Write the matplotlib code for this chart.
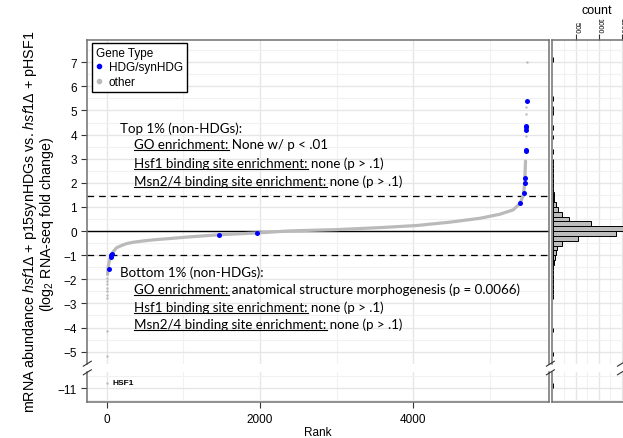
import matplotlib
matplotlib.use("Agg")
import matplotlib.pyplot as plt
from matplotlib.lines import Line2D

plt.rcParams['font.family'] = ['Liberation Sans', 'DejaVu Sans']
plt.rcParams['mathtext.fontset'] = 'custom'
plt.rcParams['mathtext.rm'] = 'Liberation Sans'
plt.rcParams['mathtext.it'] = 'Liberation Sans:italic'

# sorted log2 fold change, non-HDG genes (rank, value along the curve)
other_rank = [8, 15, 30, 45, 61, 90, 127, 190, 257, 350, 471, 620, 780, 1040,
              1477, 1957, 2348, 2523, 3002, 3608, 4048, 4483, 4875, 5136, 5310,
              5398, 5442, 5460, 5470]
other_fc = [-1.8, -1.5, -1.25, -1.1, -0.97, -0.82, -0.69, -0.6, -0.52, -0.46,
            -0.41, -0.36, -0.32, -0.25, -0.15, -0.08, 0.0, 0.02, 0.06, 0.15,
            0.23, 0.37, 0.53, 0.7, 0.88, 1.15, 1.49, 2.0, 2.9]

# isolated non-HDG genes in the tails
tail_rank = [6, 6, 5, 5, 4, 4, 3, 2, 1, 5474, 5476, 5478, 5490]
tail_fc = [-1.95, -2.05, -2.2, -2.35, -2.5, -2.65, -2.78, -4.16, -5.16,
           3.96, 4.86, 5.13, 7.02]

hsf1_rank = [0]
hsf1_fc = [-10.78]

# HDG / synHDG genes
hdg_rank = [26, 52, 58, 61, 1468, 1965, 5402, 5446, 5463, 5466, 5480, 5480,
            5483, 5483, 5483, 5485]
hdg_fc = [-1.59, -1.06, -1.0, -0.96, -0.15, -0.08, 1.17, 1.59, 1.98, 2.22,
          3.32, 3.38, 4.21, 4.3, 4.37, 5.40]

# marginal histogram (bin lower edge, count), bin width 0.2
hist_lo = [-5.2, -4.2, -2.8, -2.6, -2.4, -2.2, -2.0, -1.8, -1.6, -1.4, -1.2,
           -1.0, -0.8, -0.6, -0.4, -0.2, 0.0, 0.2, 0.4, 0.6, 0.8, 1.0, 1.2,
           1.4, 1.6, 1.8, 2.0, 2.2, 2.4, 2.6, 2.8, 3.2, 3.8, 4.2, 4.8, 5.0,
           5.4, 7.0]
hist_n = [1, 1, 2, 2, 2, 3, 4, 8, 12, 20, 40, 60, 80, 205, 550, 1365, 1550,
          830, 350, 200, 115, 60, 30, 18, 10, 8, 6, 5, 6, 5, 4, 3, 1, 3, 1, 1,
          1, 1]
hist_low_lo = [-11.0]
hist_low_n = [1]

top_cut = 1.45
bottom_cut = -1.0

W, H = 623, 439
BLUE = '#0000ff'
GREY = '#bababa'
BORDER = '#707070'
NOTE_FONT = ['Lato', 'DejaVu Sans']


def fx(x):
    return x / W


def fy(y):
    return 1 - y / H


def box(x0, y0, x1, y1):
    return [fx(x0), fy(y1), (x1 - x0) / W, (y1 - y0) / H]


fig = plt.figure(figsize=(W / 100, H / 100), dpi=100)
ax_top = fig.add_axes(box(87.3, 40.7, 549.3, 364.7))
ax_bot = fig.add_axes(box(87.3, 373.3, 549.3, 403.3))
hx_top = fig.add_axes(box(551.5, 40.7, 624, 364.7))
hx_bot = fig.add_axes(box(551.5, 373.3, 624, 403.3))

for a in (ax_top, ax_bot, hx_top, hx_bot):
    a.set_axisbelow(True)
    for s in a.spines.values():
        s.set_color(BORDER)
        s.set_linewidth(1.1)
    a.grid(True, which='major', color='#e6e6e6', lw=1.0)
    a.grid(True, which='minor', color='#f1f1f1', lw=0.8)
    a.tick_params(which='both', colors='#333333', labelcolor='black',
                  length=4, width=0.8, labelsize=8.5)
    a.tick_params(which='minor', length=0)
for a in (ax_top, hx_top):
    a.spines['bottom'].set_visible(False)
    a.set_ylim(-5.414, 7.936)
    a.set_yticks(range(-5, 8))
    a.set_yticks([v + 0.5 for v in range(-6, 8)], minor=True)
for a in (ax_bot, hx_bot):
    a.spines['top'].set_visible(False)
    a.set_ylim(-11.577, -10.34)
    a.set_yticks([-11])
    a.set_yticks([-11.5, -10.5], minor=True)

for a in (ax_top, ax_bot):
    a.set_xlim(-257, 5781)
    a.set_xticks([0, 2000, 4000])
    a.set_xticks([1000, 3000, 5000], minor=True)
ax_top.tick_params(axis='x', bottom=False, labelbottom=False)

for a in (hx_top, hx_bot):
    a.set_xlim(-30, 1546)
    a.set_xticks([500, 1000, 1500])
    a.set_xticks([250, 750, 1250], minor=True)
    a.tick_params(axis='y', left=False, labelleft=False)
hx_bot.tick_params(axis='x', bottom=False, labelbottom=False)
hx_top.xaxis.tick_top()
hx_top.tick_params(axis='x', which='major', labelsize=5, labelrotation=-90,
                   pad=1)

# reference lines
ax_top.axhline(0, color='black', lw=1.0, zorder=1.5)
for v in (top_cut, bottom_cut):
    ax_top.axhline(v, color='black', lw=0.9, ls=(0, (5.3, 4.0)), zorder=1.5)

# ranked fold changes
ax_top.plot(other_rank, other_fc, color=GREY, lw=2.3,
            solid_capstyle='round', zorder=2)
ax_top.scatter(tail_rank, tail_fc, s=3, color=GREY, lw=0, zorder=2)
ax_bot.scatter(hsf1_rank, hsf1_fc, s=3, color=GREY, lw=0, zorder=2)
ax_bot.text(78, hsf1_fc[0], 'HSF1', fontsize=6, fontweight='bold',
            va='center', ha='left')
ax_top.scatter(hdg_rank, hdg_fc, s=13, color=BLUE, lw=0, zorder=3)

# marginal histogram
hx_top.barh(hist_lo, hist_n, height=0.2, align='edge', color='#bdbdbd',
            edgecolor='black', lw=0.7)
hx_bot.barh(hist_low_lo, hist_low_n, height=0.2, align='edge',
            color='#bdbdbd', edgecolor='black', lw=0.7)

# axis break marks
for x in (87.3, 550.4, 621.5):
    for y in (364.7, 373.3):
        fig.add_artist(Line2D([fx(x - 4), fx(x + 4)], [fy(y + 2.5), fy(y - 2.5)],
                              color='#333333', lw=0.8))

# legend
handles = [Line2D([], [], ls='', marker='o', ms=3, color=BLUE, label='HDG/synHDG'),
           Line2D([], [], ls='', marker='o', ms=3, color=GREY, label='other')]
leg = ax_top.legend(handles=handles, title='Gene Type', loc='upper left',
                    bbox_to_anchor=(fx(91.7), fy(44)),
                    bbox_transform=fig.transFigure, borderaxespad=0,
                    fontsize=8.5, title_fontsize=8.5, alignment='left',
                    fancybox=False, framealpha=1, edgecolor='black',
                    borderpad=0.35, labelspacing=0.2, handlelength=0.5,
                    handletextpad=0.6)
leg.get_frame().set_linewidth(1.0)

# axis titles
fig.text(fx(30), fy(222),
         r'mRNA abundance $\mathit{hsf1\Delta}$ + p15synHDGs vs. '
         r'$\mathit{hsf1\Delta}$ + pHSF1',
         rotation=90, ha='center', va='center', fontsize=10.3)
fig.text(fx(47.5), fy(224), r'(log$_2$ RNA-seq fold change)',
         rotation=90, ha='center', va='center', fontsize=10.3)
fig.text(fx(318), fy(433), 'Rank', ha='center', va='center', fontsize=8.5)
fig.text(fx(596.7), fy(11.5), 'count', ha='center', va='center', fontsize=9)

# enrichment notes, with underlined headings
renderer = fig.canvas.get_renderer()


def note(x, y, text, head=None, size=9.6):
    fig.text(fx(x), fy(y), text, fontsize=size, family=NOTE_FONT,
             va='baseline')
    if head:
        h = fig.text(fx(x), fy(y), head, fontsize=size, family=NOTE_FONT,
                     va='baseline')
        bb = h.get_window_extent(renderer)
        h.remove()
        fig.add_artist(Line2D([bb.x0 / W, bb.x1 / W], [fy(y + 2), fy(y + 2)],
                              color='black', lw=0.8))


note(120, 132.7, 'Top 1% (non-HDGs):')
note(134.3, 149, 'GO enrichment: None w/ p < .01', 'GO enrichment:')
note(134.3, 167.5, 'Hsf1 binding site enrichment: none (p > .1)',
     'Hsf1 binding site enrichment:')
note(134.3, 185.5, 'Msn2/4 binding site enrichment: none (p > .1)',
     'Msn2/4 binding site enrichment:')
note(120, 276.7, 'Bottom 1% (non-HDGs):')
note(134.3, 293.5,
     'GO enrichment: anatomical structure morphogenesis (p = 0.0066)',
     'GO enrichment:')
note(134.3, 311.5, 'Hsf1 binding site enrichment: none (p > .1)',
     'Hsf1 binding site enrichment:')
note(134.3, 329.3, 'Msn2/4 binding site enrichment: none (p > .1)',
     'Msn2/4 binding site enrichment:')

fig.savefig('out.png', dpi=100)
